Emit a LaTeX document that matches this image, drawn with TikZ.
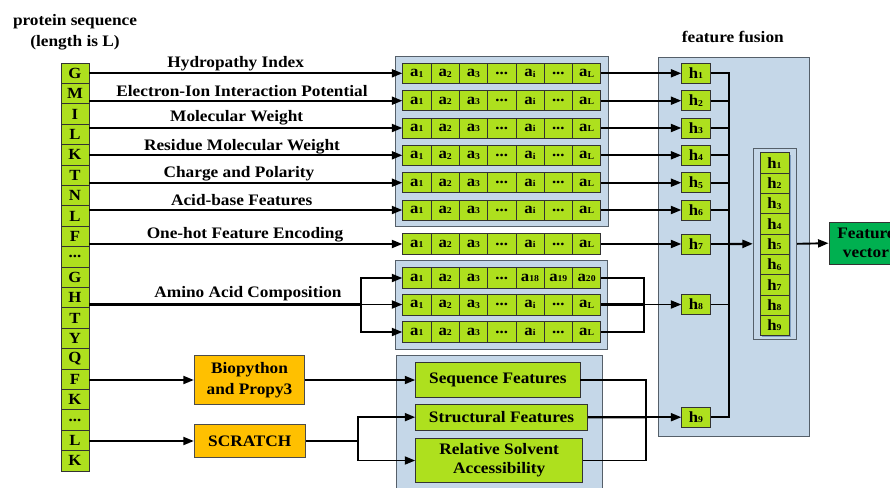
\documentclass[tikz,border=0pt]{standalone}
\usepackage{fontspec}
\setmainfont{Liberation Serif}[FakeStretch=1.08]
\usetikzlibrary{arrows.meta}
\definecolor{lgreen}{RGB}{174,224,30}
\definecolor{lblue}{RGB}{197,215,232}
\definecolor{orng}{RGB}{255,192,0}
\definecolor{dgreen}{RGB}{0,176,80}
\definecolor{bord}{RGB}{85,95,105}
\definecolor{shad}{RGB}{130,160,195}
\newcommand\sbx[2]{#1\raisebox{-0.3pt}{\fontsize{9}{9}\selectfont #2}}
\newcommand\dts{...}
\tikzset{
  cell/.style={draw=black!80, fill=lgreen, line width=0.7pt, inner sep=0pt,
    minimum width=28.3pt, minimum height=20pt, font=\bfseries\fontsize{15.5}{15.5}\selectfont},
  hcell/.style={cell, minimum width=28.6pt},
  bluebox/.style={draw=bord, fill=lblue, line width=0.9pt},
  arr/.style={-{Triangle[length=10.5pt,width=8pt]}, line width=1.9pt},
  ln/.style={line width=1.9pt},
  thk/.style={line width=2.3pt},
  lbl/.style={font=\bfseries\fontsize{16}{16}\selectfont, inner sep=0pt},
  gbox/.style={draw=black!80, fill=lgreen, line width=0.9pt, align=center,
    font=\bfseries\fontsize{16}{19}\selectfont, inner sep=0pt},
  obox/.style={draw=black!70, fill=orng, line width=0.9pt, align=center,
    font=\bfseries\fontsize{16}{21}\selectfont, inner sep=0pt}
}
\begin{document}
\begin{tikzpicture}[x=1pt,y=-1pt]
\useasboundingbox (0,0) rectangle (890,487);

% titles
\node[lbl, align=center, font=\bfseries\fontsize{16}{21}\selectfont] (title) at (75,32.5) {protein sequence\\(length is L)};
\node[lbl] (fftitle) at (732.8,37) {feature fusion};

% blue containers
\node[bluebox, minimum width=213pt, minimum height=170.7pt, inner sep=0pt] (bb1) at (501.8,141.35) {};
\node[bluebox, minimum width=212.4pt, minimum height=88.3pt, inner sep=0pt] (bb2) at (501.5,304.85) {};
\node[bluebox, minimum width=206.3pt, minimum height=140pt, inner sep=0pt] (bb3) at (499.15,425.7) {};
\node[bluebox, minimum width=151pt, minimum height=379pt, inner sep=0pt] (ff) at (733.8,247.2) {};

% sequence column
\node[draw=black!80, fill=lgreen, minimum width=28pt, minimum height=408pt, inner sep=0pt] (col) at (75,267) {};
\foreach[count=\i] \t in {G,M,I,L,K,T,N,L,F,\dts,G,H,T,Y,Q,F,K,\dts,L,K}{
  \node[cell, minimum width=28pt, minimum height=20.4pt] (s\i) at (75,{63+20.4*(\i-0.5)}) {\t};
}

% feature rows in box 1
\foreach \r/\y in {1/73.3,2/100.7,3/128,4/155.3,5/182.7,6/210}{
  \foreach[count=\k] \t in {\sbx{a}{1},\sbx{a}{2},\sbx{a}{3},\dts,\sbx{a}{i},\dts,\sbx{a}{L}}{
    \node[cell] (r\r c\k) at ({402.7+28.29*(\k-0.5)},\y) {\t};
  }
}
% one-hot row
\foreach[count=\k] \t in {\sbx{a}{1},\sbx{a}{2},\sbx{a}{3},\dts,\sbx{a}{i},\dts,\sbx{a}{L}}{
  \node[cell, minimum height=21pt] (o\k) at ({402.7+28.29*(\k-0.5)},244) {\t};
}
% amino acid rows
\foreach[count=\k] \t in {\sbx{a}{1},\sbx{a}{2},\sbx{a}{3},\dts,\sbx{a}{18},\sbx{a}{19},\sbx{a}{20}}{
  \node[cell, minimum height=21pt] (m1c\k) at ({402.7+28.29*(\k-0.5)},278) {\t};
}
\foreach \r/\y in {2/304.5,3/332}{
  \foreach[count=\k] \t in {\sbx{a}{1},\sbx{a}{2},\sbx{a}{3},\dts,\sbx{a}{i},\dts,\sbx{a}{L}}{
    \node[cell, minimum height=21pt] (m\r c\k) at ({402.7+28.29*(\k-0.5)},\y) {\t};
  }
}

% tool boxes
\node[obox, minimum width=110.4pt, minimum height=48.6pt] (bio) at (249.5,380) {Biopython\\and Propy3};
\node[obox, minimum width=111pt, minimum height=33.4pt] (scr) at (249.8,441) {SCRATCH};
\node[gbox, minimum width=164.3pt, minimum height=34.6pt] (seq) at (497.85,380) {Sequence Features};
\node[gbox, minimum width=171.6pt, minimum height=25.7pt] (str) at (501.5,417.15) {Structural Features};
\node[gbox, minimum width=167pt, minimum height=44.4pt] (rsa) at (499.2,460.5) {Relative Solvent\\Accessibility};

% h cells
\foreach \i/\y in {1/73.3,2/100.7,3/128,4/155.3,5/182.7,6/210,7/244,8/304.5,9/417.2}{
  \node[hcell] (h\i) at (696,\y) {\sbx{h}{\i}};
}
% concatenated vector
\node[draw=bord, fill=lblue, line width=0.9pt, minimum width=43.4pt, minimum height=191pt, inner sep=0pt] (inner) at (775,243.8) {};
\fill[shad] (761.5,154.5) rectangle (791,337);
\foreach \i in {1,...,9}{
  \node[hcell, minimum width=29pt, minimum height=20.33pt] (f\i) at (774.5,{152.7+20.33*(\i-0.5)}) {\sbx{h}{\i}};
}
\node[draw=black!80, fill=dgreen, line width=0.9pt, minimum width=74pt, minimum height=41.7pt, inner sep=0pt,
  align=center, font=\bfseries\fontsize{16}{19}\selectfont] (fv) at (866,243.2) {Feature\\vector};

% labels
\node[lbl] (l1) at (235.7,63.3) {Hydropathy Index};
\node[lbl] (l2) at (242,91) {Electron-Ion Interaction Potential};
\node[lbl] (l3) at (236.7,118) {Molecular Weight};
\node[lbl] (l4) at (242,146.4) {Residue Molecular Weight};
\node[lbl] (l5) at (239,173.4) {Charge and Polarity};
\node[lbl] (l6) at (241.7,200.4) {Acid-base Features};
\node[lbl] (l7) at (245,234.8) {One-hot Feature Encoding};
\node[lbl] (l8) at (248,293.3) {Amino Acid Composition};

% arrows from the column
\foreach \r in {1,...,6}{
  \draw[arr] (col.east |- r\r c1.west) -- (r\r c1.west);
  \draw[arr] (r\r c7.east) -- (h\r.west);
}
\draw[arr] (col.east |- o1.west) -- (o1.west);
\draw[arr] (o7.east) -- (h7.west);

% amino acid composition
\coordinate (fk) at (360.7,304.5);
\draw[thk] (col.east |- m2c1.west) -- (fk);
\draw[arr] (fk) -- (m2c1.west);
\draw[arr] (fk) |- (m1c1.west);
\draw[arr] (fk) |- (m3c1.west);
\coordinate (fk2) at (644.3,304.5);
\draw[ln] (m1c7.east) -- (m1c7.east -| fk2) -- (m3c7.east -| fk2) -- (m3c7.east);
\draw[thk] (m2c7.east) -- (fk2);
\draw[arr] (fk2) -- (h8.west);

% tools
\draw[arr] (col.east |- bio.west) -- (bio.west);
\draw[arr] (col.east |- scr.west) -- (scr.west);
\draw[arr] (bio.east) -- (seq.west);
\coordinate (fk3) at (358.3,441);
\draw[thk] (scr.east) -- (fk3);
\draw[arr] (fk3) |- (str.west);
\draw[arr] (fk3) |- (rsa.west);
\coordinate (fk4) at (645.7,417.2);
\draw[ln] (seq.east) -- (seq.east -| fk4) -- (rsa.east -| fk4) -- (rsa.east);
\draw[thk] (str.east) -- (fk4);
\draw[arr] (fk4) -- (h9.west);

% fusion collector
\coordinate (ct) at (729.3,73.3);
\draw[thk] (h1.east) -- (h1.east -| ct) -- (h9.east -| ct) -- (h9.east);
\foreach \i in {2,...,8}{
  \draw[ln] (h\i.east) -- (h\i.east -| ct);
}
\draw[arr, line width=2.3pt] (h7.east -| ct) -- (inner.west);
\draw[arr] (inner.east) -- (fv.west);
\end{tikzpicture}
\end{document}
